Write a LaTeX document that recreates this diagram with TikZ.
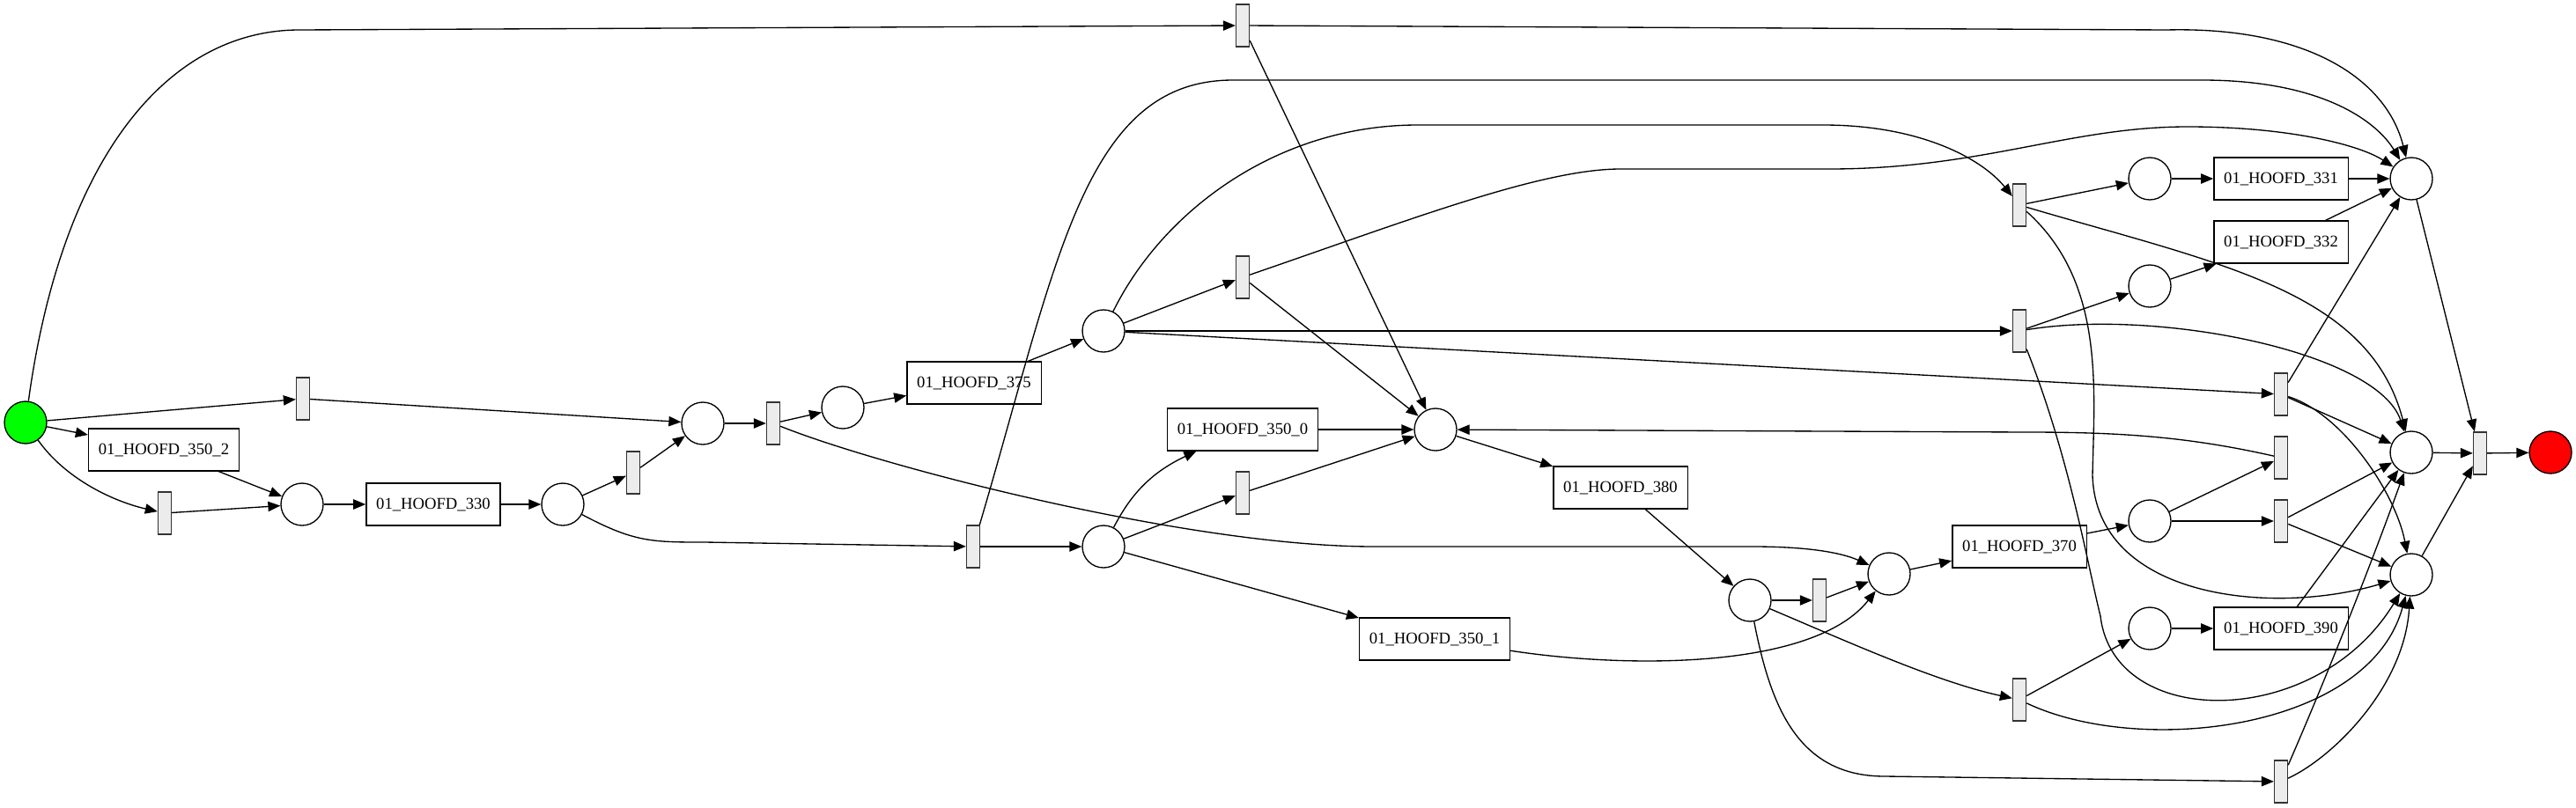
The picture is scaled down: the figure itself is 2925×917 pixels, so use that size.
\documentclass[tikz,border=0pt]{standalone}
\usepackage{fontspec}
\setmainfont{Liberation Serif}
\usetikzlibrary{arrows.meta}
\definecolor{trfill}{RGB}{236,236,236}
\newcommand{\drawplace}[3]{
  \node[place] (#1) at (#2,#3) {};
}
\newcommand{\drawtrans}[3]{
  \node[trans] (#1) at (#2,#3) {};
}
\newcommand{\drawtask}[4]{
  \node[task] (#1) at (#2,#3) {01\_HOOFD\_#4};
}

\begin{document}
\begin{tikzpicture}[x=0.75pt,y=-0.75pt,
  place/.style={circle,draw,line width=1pt,minimum size=36pt,inner sep=0pt,fill=white},
  trans/.style={rectangle,draw=black!80,fill=trfill,line width=1pt,minimum width=11.25pt,minimum height=36pt,inner sep=0pt},
  task/.style={rectangle,draw,line width=1pt,minimum height=36pt,inner xsep=8.5pt,inner ysep=0pt,fill=white,font=\fontsize{14pt}{16pt}\selectfont},
  arc/.style={-{Triangle[length=10.5pt,width=8.5pt]},line width=1pt}]
  \useasboundingbox (0,0) rectangle (2925,917);
  \node[place,fill={rgb,255:red,0;green,255;blue,0}] (source) at (29,480) {};
  \node[place,fill={rgb,255:red,255;green,0;blue,0}] (sink) at (2896,514) {};
  \foreach \n/\x/\y in {p1/343/573,p2/639/573,p3/798/481,p4/957/463,p5/1253/376,
      p6/1630/488,p7/1253/621,p8/2441/203,p9/2738/203,p10/2441/325,p11/2738/514,
      p12/1987/682,p13/2145/652,p14/2441/592,p15/2738/653,p16/2441/714}{
    \drawplace{\n}{\x}{\y}
  }
  \foreach \n/\x/\y in {t1/1411/29,t2/344/453,t3/187/583,t4/719/537,t5/878/481,
      t6/1411/315,t7/1105/621,t8/1411/560,t9/2066/682,t10/2293/233,t11/2293/376,
      t12/2293/795,t13/2590/448,t14/2590/520,t15/2590/592,t16/2590/888,t17/2816/515}{
    \drawtrans{\n}{\x}{\y}
  }
  \drawtask{a350b}{186}{511}{350\_2}
  \drawtask{a330}{492}{573}{330}
  \drawtask{a375}{1106}{435}{375}
  \drawtask{a350z}{1411}{488}{350\_0}
  \drawtask{a350a}{1629}{726}{350\_1}
  \drawtask{a380}{1840}{554}{380}
  \drawtask{a370}{2293}{621}{370}
  \drawtask{a331}{2590}{203}{331}
  \drawtask{a332}{2590}{275}{332}
  \drawtask{a390}{2590}{714}{390}

  \foreach \a/\b in {source/t2,source/a350b,a350b/p1,t3/p1,p1/a330,a330/p2,p2/t4,
      t4/p3,t2/p3,p3/t5,t5/p4,p4/a375,a375/p5,p5/t6,p5/t11,p5/t13,t1/p6,t6/p6,
      a350z/p6,t8/p6,p7/t8,p7/a350a,t7/p7,p6/a380,a380/p12,p12/t9,t9/p13,p13/a370,
      a370/p14,p14/t14,p14/t15,t15/p11,t15/p15,t12/p16,p16/a390,a390/p11,t10/p8,
      p8/a331,a331/p9,t11/p10,p10/a332,a332/p9,t13/p9,t13/p11,p9/t17,p11/t17,
      p15/t17,t17/sink}{
    \draw[arc] (\a) -- (\b);
  }

  % long arcs
  \draw[arc] (source) .. controls (70,180) and (190,34) .. (340,34) -- (t1);
  \draw[arc] (source) .. controls (75,545) and (130,570) .. (t3);
  \draw[arc] (p2) .. controls (720,616) and (740,616) .. (800,616) -- (t7);
  \draw[arc] (t5) .. controls (1000,530) and (1350,621) .. (1560,621) -- (1990,621)
    .. controls (2070,621) and (2100,632) .. (p13);
  \draw[arc] (p5) .. controls (1320,240) and (1450,142) .. (1610,142) -- (2070,142)
    .. controls (2180,142) and (2250,180) .. (t10);
  \draw[arc] (t7) .. controls (1200,300) and (1230,91) .. (1400,91) -- (2500,91)
    .. controls (2640,91) and (2700,140) .. (p9);
  \draw[arc] (t1) -- (2460,34) .. controls (2620,30) and (2710,90) .. (p9);
  \draw[arc] (t6) .. controls (1600,250) and (1750,192) .. (1840,192) -- (2077,192)
    .. controls (2250,192) and (2350,144) .. (2484,144)
    .. controls (2600,144) and (2680,165) .. (p9);
  \draw[arc] (p7) .. controls (1280,570) and (1300,540) .. (a350z);
  \draw[arc] (t14) .. controls (2480,495) and (2400,491) .. (2300,491) -- (p6);
  \draw[arc] (a350a) .. controls (1850,760) and (2060,760) .. (p13);
  \draw[arc] (p12) .. controls (2100,730) and (2200,775) .. (t12);
  \draw[arc] (p12) .. controls (2010,800) and (2040,882) .. (2140,882) -- (t16);
  \draw[arc] (t10) .. controls (2520,300) and (2690,330) .. (p11);
  \draw[arc] (t10) .. controls (2390,320) and (2378,440) .. (2376,540)
    .. controls (2380,680) and (2580,700) .. (p15);
  \draw[arc] (t11) .. controls (2450,350) and (2700,400) .. (p11);
  \draw[arc] (t11) .. controls (2350,520) and (2370,640) .. (2385,700)
    .. controls (2400,830) and (2630,830) .. (p15);
  \draw[arc] (t12) .. controls (2430,860) and (2690,830) .. (p15);
  \draw[arc] (t13) .. controls (2660,470) and (2720,560) .. (p15);
  \draw[arc] (t16) .. controls (2650,860) and (2730,780) .. (p15);
  \draw[arc] (t16) .. controls (2650,750) and (2700,620) .. (p11);
\end{tikzpicture}
\end{document}
